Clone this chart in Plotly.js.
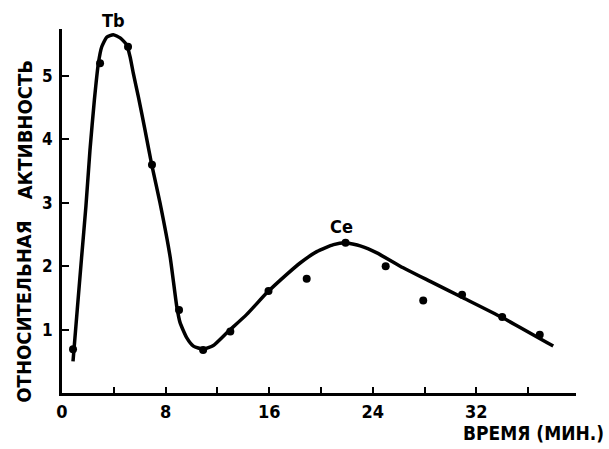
<!DOCTYPE html>
<html>
<head>
<meta charset="utf-8">
<script src="https://cdn.plot.ly/plotly-3.0.1.min.js"></script>
<style>html,body{margin:0;padding:0;background:#fff;}#chart{width:609px;height:449px;}</style>
</head>
<body>
<div id="chart"></div>
<script>
// Smooth fitted curve
var curveX = [0.85, 1.18, 1.51, 1.85, 2.16, 2.50, 2.81, 3.07, 3.45, 3.96, 4.49, 5.00, 5.26, 5.51, 5.90, 6.41, 6.93, 7.57, 8.35, 8.86, 9.12, 9.64, 10.15, 10.92, 11.69, 12.73, 14.27, 15.82, 17.36, 18.39, 19.68, 20.97, 21.87, 23.03, 24.32, 26.12, 28.44, 30.89, 34.00, 37.94];
var curveY = [0.50, 1.32, 2.13, 2.95, 3.83, 4.62, 5.20, 5.46, 5.61, 5.65, 5.60, 5.49, 5.30, 5.04, 4.67, 4.15, 3.60, 3.00, 2.15, 1.37, 1.11, 0.87, 0.74, 0.69, 0.75, 0.95, 1.24, 1.58, 1.87, 2.05, 2.23, 2.34, 2.37, 2.32, 2.21, 2.00, 1.76, 1.51, 1.19, 0.74];
// Measured points
var pointsX = [0.85, 2.94, 5.1, 6.95, 9.04, 10.9, 13.0, 15.95, 18.9, 21.9, 25.0, 27.9, 30.9, 34.0, 36.9];
var pointsY = [0.69, 5.2, 5.46, 3.6, 1.31, 0.68, 0.97, 1.61, 1.8, 2.37, 2.0, 1.46, 1.55, 1.2, 0.92];
// Axis ticks
var xTickVals = [0, 4, 8, 12, 16, 20, 24, 28, 32, 36];
var xTickText = ['0', '', '8', '', '16', '', '24', '', '32', ''];
var yTickVals = [1, 2, 3, 4, 5];
var yTickText = ['1', '2', '3', '4', '5'];
// Peak labels
var peakNames = ['Tb', 'Ce'];
var peakX = [4.0, 21.6];
var peakY = [5.65, 2.37];
// Axis titles
var yTitleWords = ['АКТИВНОСТЬ', 'ОТНОСИТЕЛЬНАЯ'];
var yTitleAt = [4.15, 1.29];
var xTitle = 'ВРЕМЯ (МИН.)';

var FONT = '"DejaVu Sans Condensed", "Liberation Sans Narrow", "DejaVu Sans", sans-serif';

var traces = [
  {x: curveX, y: curveY, mode: 'lines', type: 'scatter',
   line: {color: '#000', width: 3.5, shape: 'spline', smoothing: 0.5},
   hoverinfo: 'skip', showlegend: false, cliponaxis: false},
  {x: pointsX, y: pointsY, mode: 'markers', type: 'scatter',
   marker: {color: '#000', size: 8}, showlegend: false, cliponaxis: false}
];

var annotations = [];
for (var i = 0; i < peakNames.length; i++) {
  annotations.push({x: peakX[i], y: peakY[i], xref: 'x', yref: 'y', text: '<b>' + peakNames[i] + '</b>',
    xanchor: 'center', yanchor: 'middle', yshift: 14 + i * 2,
    showarrow: false, font: {family: FONT, size: 18, color: '#000'}});
}
for (var j = 0; j < yTitleWords.length; j++) {
  annotations.push({x: -0.073, y: yTitleAt[j], xref: 'paper', yref: 'y', text: '<b>' + yTitleWords[j] + '</b>',
    xanchor: 'center', yanchor: 'middle',
    textangle: -90, showarrow: false, font: {family: FONT, size: 20, color: '#000'}});
}
annotations.push({x: 36.4, y: -0.11, xref: 'x', yref: 'paper', text: '<b>' + xTitle + '</b>',
  xanchor: 'center', yanchor: 'middle',
  showarrow: false, font: {family: FONT, size: 19, color: '#000'}});

var layout = {
  width: 609, height: 449,
  margin: {l: 62, r: 33, t: 29, b: 56},
  paper_bgcolor: '#fff', plot_bgcolor: '#fff',
  showlegend: false,
  xaxis: {range: [0, 39.7], showgrid: false, zeroline: false, showline: true, linecolor: '#000', linewidth: 3,
    ticks: 'inside', ticklen: 6, tickwidth: 2, tickcolor: '#000',
    tickmode: 'array', tickvals: xTickVals, ticktext: xTickText,
    tickfont: {family: FONT, size: 18, color: '#000', weight: 'bold'}},
  yaxis: {range: [0, 5.74], showgrid: false, zeroline: false, showline: true, linecolor: '#000', linewidth: 3,
    ticks: 'inside', ticklen: 7, tickwidth: 2, tickcolor: '#000',
    tickmode: 'array', tickvals: yTickVals, ticktext: yTickText, ticklabelstandoff: 3,
    tickfont: {family: FONT, size: 17, color: '#000', weight: 'bold'}},
  annotations: annotations
};

Plotly.newPlot('chart', traces, layout, {displayModeBar: false, staticPlot: true});
</script>
</body>
</html>
